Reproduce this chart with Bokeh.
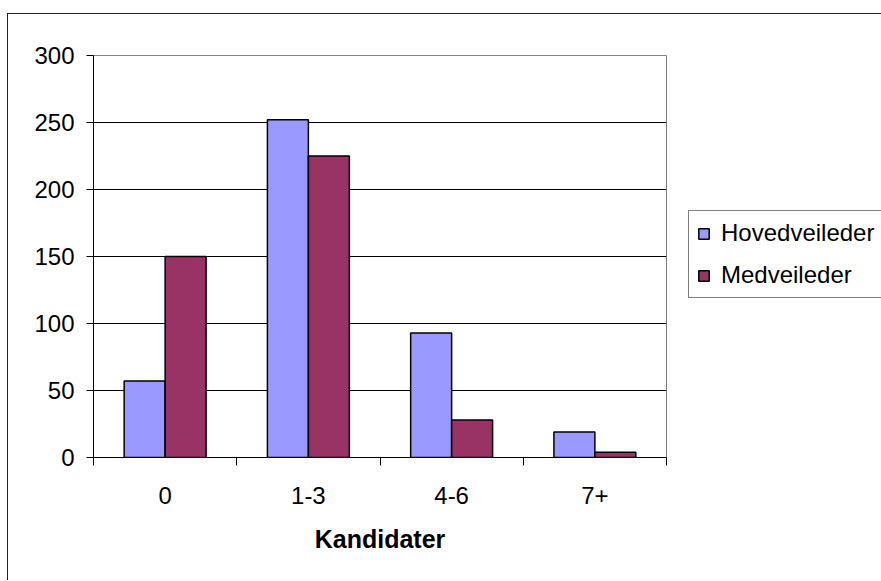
from bokeh.plotting import figure
from bokeh.models import (Range1d, FixedTicker, Legend, LegendItem, ColumnDataSource)
from bokeh.transform import dodge
from bokeh.embed import file_html
from bokeh.resources import INLINE

categories = ["0", "1-3", "4-6", "7+"]
hovedveileder = [57, 252, 93, 19]
medveileder = [150, 225, 28, 4]
y_ticks = [0, 50, 100, 150, 200, 250, 300]
series_names = ["Hovedveileder", "Medveileder"]
x_title = "Kandidater"

FONT = "Liberation Sans"
BLUE = "#9999FF"
MAROON = "#993366"

n = len(categories)
centers = [i + 0.5 for i in range(n)]

p = figure(x_range=Range1d(0, n),
           y_range=Range1d(y_ticks[0], y_ticks[-1]),
           frame_width=573, frame_height=402,
           output_backend="svg", toolbar_location=None,
           x_axis_location="below", y_axis_location="left",
           min_border_left=85, min_border_right=214,
           min_border_top=41, min_border_bottom=123,
           margin=(13, 0, 0, 7))
p.styles = {"border-top": "1px solid #222", "border-left": "1px solid #222"}
p.background_fill_color = "white"
p.border_fill_color = "white"
p.outline_line_color = "#808080"
p.outline_line_width = 1

xaxis = p.xaxis[0]
xaxis.ticker = FixedTicker(ticks=centers, minor_ticks=list(range(n + 1)))
xaxis.major_label_overrides = {c: lab for c, lab in zip(centers, categories)}
xaxis.major_tick_line_color = None
xaxis.minor_tick_in = 0
xaxis.minor_tick_out = 8
xaxis.minor_tick_line_color = "black"
xaxis.axis_line_color = "black"
xaxis.major_label_text_font = FONT
xaxis.major_label_text_font_size = "24px"
xaxis.major_label_text_color = "black"
xaxis.major_label_standoff = 21
xaxis.axis_label = x_title
xaxis.axis_label_text_font = FONT
xaxis.axis_label_text_font_size = "25px"
xaxis.axis_label_text_font_style = "bold"
xaxis.axis_label_text_color = "black"
xaxis.axis_label_standoff = 18

yax = p.yaxis[0]
yax.ticker = FixedTicker(ticks=y_ticks)
yax.major_tick_in = 0
yax.major_tick_out = 7
yax.minor_tick_line_color = None
yax.axis_line_color = "black"
yax.major_tick_line_color = "black"
yax.major_label_text_font = FONT
yax.major_label_text_font_size = "24px"
yax.major_label_text_color = "black"
yax.major_label_standoff = 12

p.ygrid.ticker = FixedTicker(ticks=y_ticks[1:-1])
p.ygrid.grid_line_color = "black"
p.ygrid.grid_line_width = 1
p.xgrid.grid_line_color = None

src = ColumnDataSource(dict(pos=centers, h=hovedveileder, m=medveileder))
r1 = p.vbar(x=dodge("pos", -0.143), top="h", width=0.286,
            source=src, fill_color=BLUE, line_color="black", line_width=1.5)
r2 = p.vbar(x=dodge("pos", 0.143), top="m", width=0.286,
            source=src, fill_color=MAROON, line_color="black", line_width=1.5)

legend = Legend(
    items=[LegendItem(label=series_names[0], renderers=[r1]),
           LegendItem(label=series_names[1], renderers=[r2])],
    location=(22, 159), margin=0, padding=8, spacing=14,
    glyph_width=13, glyph_height=13, label_standoff=11, label_height=20,
    label_text_font=FONT, label_text_font_size="24px", label_text_color="black",
    border_line_color="black", border_line_width=1,
    background_fill_color="white", background_fill_alpha=1,
)
p.add_layout(legend, "right")

open("out.html", "w").write(file_html(p, INLINE))
